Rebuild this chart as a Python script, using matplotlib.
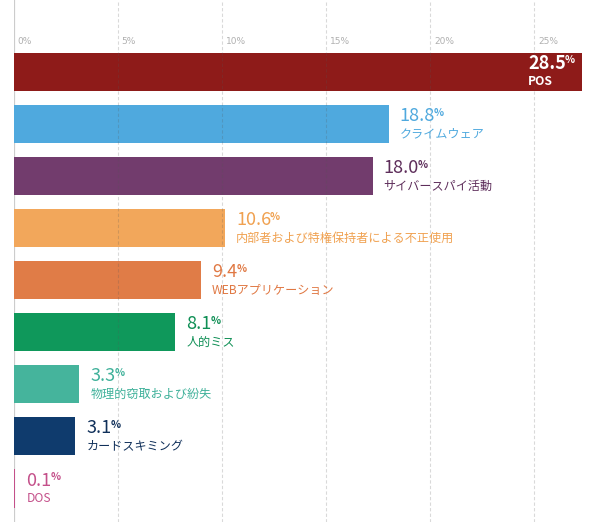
import matplotlib
matplotlib.use("Agg")
import matplotlib.pyplot as plt
import matplotlib.transforms as mtransforms

# ---- data ----
categories = ["POS", "クライムウェア", "サイバースパイ活動", "内部者および特権保持者による不正使用",
              "WEBアプリケーション", "人的ミス", "物理的窃取および紛失", "カードスキミング", "DOS"]
values = [28.5, 18.8, 18.0, 10.6, 9.4, 8.1, 3.3, 3.1, 0.1]
value_labels = ["28.5", "18.8", "18.0", "10.6", "9.4", "8.1", "3.3", "3.1", "0.1"]
colors = ["#8E1B19", "#4FA9DE", "#723C6D", "#F2A75B", "#E07C47",
          "#0F985B", "#45B49C", "#0F3B6D", "#C4508A"]
text_colors = ["#FFFFFF", "#4FA9DE", "#5E2E5B", "#F0A150", "#E07843",
               "#0F8F55", "#3FB19A", "#10305A", "#C4508A"]
tick_values = [0, 5, 10, 15, 20, 25]
tick_labels = ["0%", "5%", "10%", "15%", "20%", "25%"]
grid_scale = 1.044   # gridlines in the original are spaced slightly wider than the bar scale

W, H = 600, 522
fig = plt.figure(figsize=(W / 100, H / 100), dpi=100)
left_px = 13.5
ax = fig.add_axes([left_px / W, 0, 1 - left_px / W, 1])
px_per_unit = 19.95
ax.set_xlim(0, (W - left_px) / px_per_unit)
pitch = 52.1
c0 = 71.7
ax.set_ylim((H - c0) / pitch, -c0 / pitch)
ax.axis("off")

ypos = list(range(len(values)))
ax.barh(ypos, values, height=0.73, color=colors, zorder=2)

# axis line and gridlines
ax.axvline(0, color="#cccccc", lw=1.6, zorder=1)
trans = mtransforms.blended_transform_factory(ax.transData, ax.transAxes)
for tv, tl in zip(tick_values, tick_labels):
    xp = tv * grid_scale
    if tv != 0:
        ax.axvline(xp, color="#555555", alpha=0.22, lw=0.8, ls=(0, (3, 2)), zorder=3)
    ax.text(xp + 4 / px_per_unit, 1 - 41 / H, tl, transform=trans, ha="left", va="center",
            fontsize=6.5, color="#b0b0b0", family=["DejaVu Sans"])

jp = ["Noto Sans CJK JP", "DejaVu Sans"]
for i, (v, vl, cat, tc) in enumerate(zip(values, value_labels, categories, text_colors)):
    inside = v > 25
    if inside:
        dx = -54
        weight = "bold"
    else:
        dx = 11
        weight = "normal"
    t = ax.annotate(vl, xy=(v, i), xytext=(dx, 8), textcoords="offset pixels",
                    ha="left", va="center", fontsize=13, color=tc, family=jp,
                    weight=weight, zorder=5)
    ax.annotate("%", xy=(1, 1), xycoords=t, xytext=(-1, -1), textcoords="offset pixels",
                ha="left", va="top", fontsize=7.5, color=tc, family=jp, weight="bold", zorder=5)
    ax.annotate(cat, xy=(v, i), xytext=(dx, -10), textcoords="offset pixels",
                ha="left", va="center", fontsize=8.7, color=tc, family=jp,
                weight="bold" if inside else "normal", zorder=5)

fig.savefig("out.png", dpi=100)
